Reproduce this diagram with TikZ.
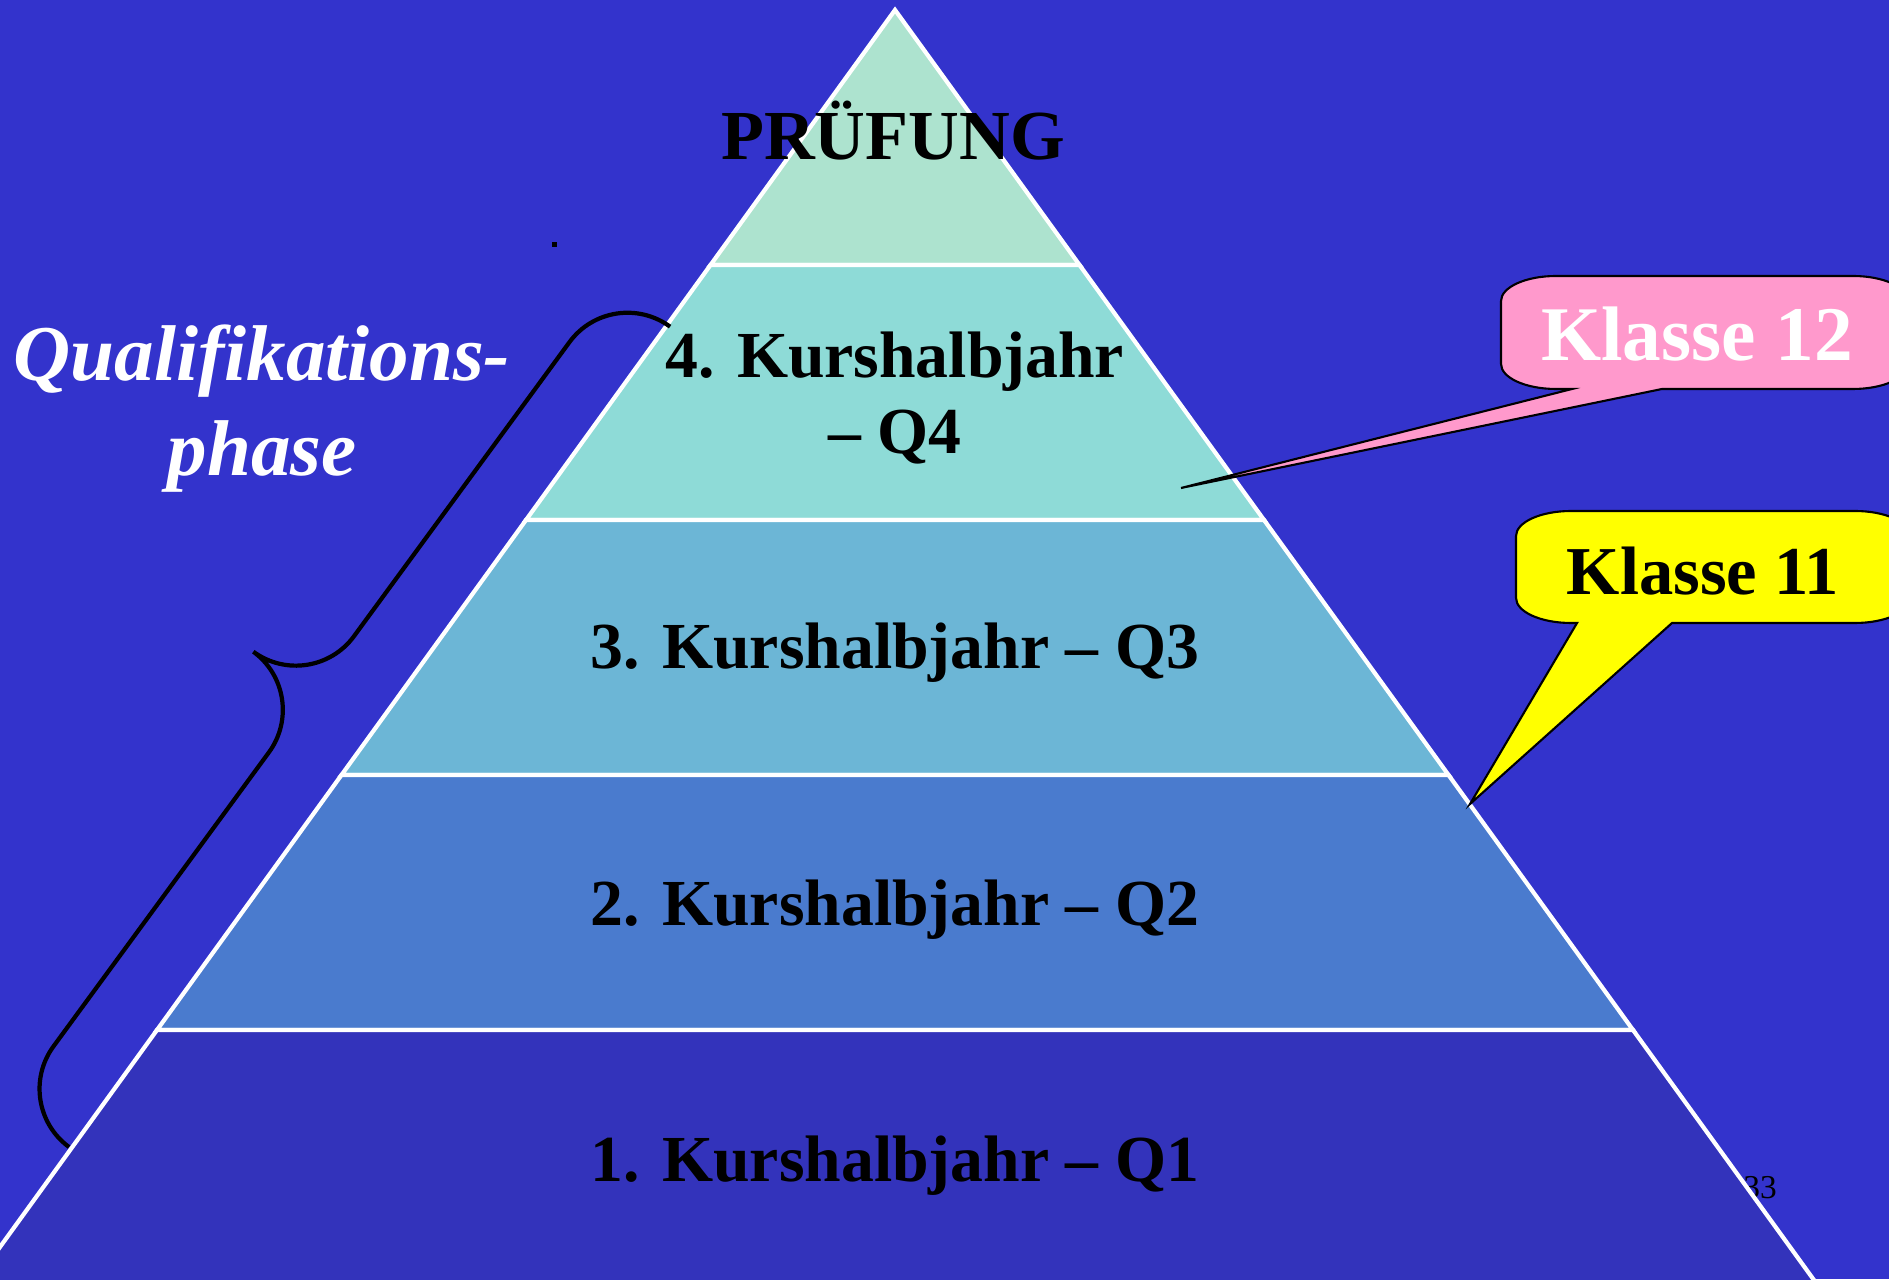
\documentclass[tikz,border=0pt]{standalone}
\usepackage{fontspec}
\setmainfont{Liberation Serif}

\definecolor{bgblue}{HTML}{3333CC}
\definecolor{bandtop}{HTML}{ADE3CF}
\definecolor{bandqfour}{HTML}{8EDBD7}
\definecolor{bandqthree}{HTML}{6CB6D6}
\definecolor{bandqtwo}{HTML}{4A7BCE}
\definecolor{bandqone}{HTML}{3333BB}
\definecolor{calloutpink}{HTML}{FF99CC}
\definecolor{calloutyellow}{HTML}{FFFF00}

\tikzset{
  band/.style={draw=white, line width=1.2pt},
  bandlabel/.style={font=\bfseries\fontsize{18.7}{21.6}\selectfont, text=black, align=center},
  calloutshape/.style={draw=black, line width=0.6pt},
  bracket/.style={draw=black, line width=1.2pt},
}

\begin{document}
\begin{tikzpicture}
\useasboundingbox (0,0) rectangle (18.89,12.79);
\clip (0,0) rectangle (18.89,12.79);

% Background
\fill[bgblue] (0,0) rectangle (18.89,12.79);
\fill[black] (5.515,10.315) rectangle (5.565,10.365);

% Page number (under the pyramid)
\node[font=\fontsize{9.5}{11}\selectfont, anchor=base] (pagenum) at (17.60,0.81) {33};

% Pyramid bands
\filldraw[band, fill=bandtop] (8.95,12.69) -- (10.795,10.14) -- (7.105,10.14) -- cycle;
\filldraw[band, fill=bandqfour] (7.105,10.14) -- (10.795,10.14) -- (12.64,7.59) -- (5.26,7.59) -- cycle;
\filldraw[band, fill=bandqthree] (5.26,7.59) -- (12.64,7.59) -- (14.485,5.04) -- (3.415,5.04) -- cycle;
\filldraw[band, fill=bandqtwo] (3.415,5.04) -- (14.485,5.04) -- (16.33,2.49) -- (1.57,2.49) -- cycle;
\filldraw[band, fill=bandqone] (1.57,2.49) -- (16.33,2.49) -- (18.175,-0.06) -- (-0.275,-0.06) -- cycle;

% Band labels
\node[font=\bfseries\fontsize{20}{24}\selectfont, anchor=base] (pruefung) at (8.93,11.19) {PRÜFUNG};
\node[bandlabel] (qfour) at (8.95,8.81) {4. Kurshalbjahr\\– Q4};
\node[bandlabel, anchor=base] (qthree) at (8.95,6.10) {3. Kurshalbjahr – Q3};
\node[bandlabel, anchor=base] (qtwo) at (8.95,3.54) {2. Kurshalbjahr – Q2};
\node[bandlabel, anchor=base] (qone) at (8.95,0.98) {1. Kurshalbjahr – Q1};

% Brace over Q1 to Q4
\begin{scope}[shift={(0.69,1.32)}, rotate=53.77]
\draw[bracket] (0,0) arc[start angle=180, end angle=90, radius=0.72]
  -- (4.365,0.72) arc[start angle=270, end angle=360, radius=0.72]
  arc[start angle=180, end angle=270, radius=0.72]
  -- (9.45,0.72) arc[start angle=90, end angle=0, radius=0.72];
\end{scope}
\node[font=\bfseries\itshape\fontsize{22.5}{27}\selectfont, text=white, align=center] (phase) at (2.62,8.70) {Qualifikations-\\phase};

% Callouts
\filldraw[calloutshape, fill=calloutpink] (15.01,9.46) -- (15.01,9.78)
  arc[start angle=180, end angle=90, x radius=0.55, y radius=0.25] -- (18.53,10.03)
  arc[start angle=90, end angle=0, x radius=0.55, y radius=0.25] -- (19.08,9.15)
  arc[start angle=0, end angle=-90, x radius=0.55, y radius=0.25] -- (16.62,8.90)
  -- (11.81,7.91) -- (15.72,8.90) -- (15.56,8.90)
  arc[start angle=270, end angle=180, x radius=0.55, y radius=0.25] -- cycle;
\node[font=\bfseries\fontsize{22}{26}\selectfont, text=white, anchor=base] (klassezwoelf) at (16.97,9.18) {Klasse 12};

\filldraw[calloutshape, fill=calloutyellow] (15.16,7.12) -- (15.16,7.43)
  arc[start angle=180, end angle=90, x radius=0.55, y radius=0.25] -- (18.55,7.68)
  arc[start angle=90, end angle=0, x radius=0.55, y radius=0.25] -- (19.10,6.81)
  arc[start angle=0, end angle=-90, x radius=0.55, y radius=0.25] -- (16.72,6.56)
  -- (14.70,4.75) -- (15.77,6.56) -- (15.71,6.56)
  arc[start angle=270, end angle=180, x radius=0.55, y radius=0.25] -- cycle;
\node[font=\bfseries\fontsize{19.5}{23}\selectfont, text=black, anchor=base] (klasseelf) at (17.03,6.84) {Klasse 11};

\end{tikzpicture}
\end{document}
